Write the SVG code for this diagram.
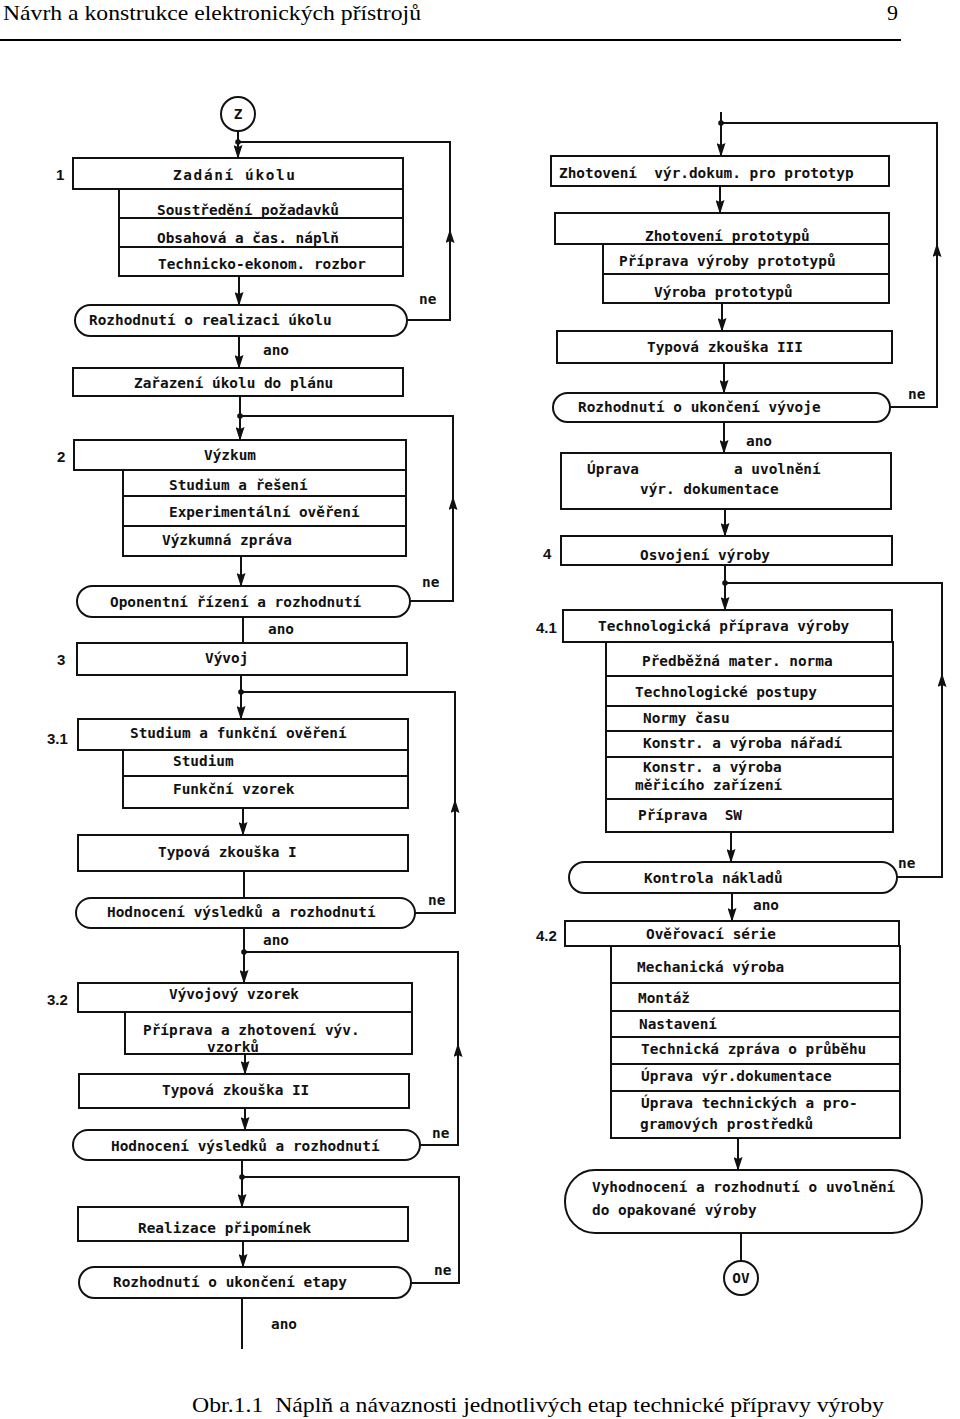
<svg xmlns="http://www.w3.org/2000/svg" width="960" height="1419" viewBox="0 0 960 1419">
<defs>
<marker id="ah" viewBox="0 0 14 9" refX="13" refY="4.5" markerWidth="14" markerHeight="9" markerUnits="userSpaceOnUse" orient="auto">
<path d="M0,0 L14,4.5 L0,9 L2,4.5 Z" fill="#111"/>
</marker>
<style>
.b{fill:#fff;stroke:#111;stroke-width:2}
.d{fill:none;stroke:#111;stroke-width:2}
.c{fill:none;stroke:#111;stroke-width:2}
.a{fill:none;stroke:#111;stroke-width:2;marker-end:url(#ah)}
.j{fill:#111}
.t{font-family:"DejaVu Sans Mono","Liberation Mono",monospace;font-size:14.4px;font-weight:bold;fill:#111;white-space:pre}
.n{font-family:"Liberation Sans","DejaVu Sans",sans-serif;font-size:15px;font-weight:bold;fill:#111}
.h{font-family:"Liberation Serif","Times New Roman",serif;font-size:22px;fill:#000;white-space:pre}
</style>
</defs>
<rect width="960" height="1419" fill="#fff"/>

<g id="header">
<text class="h" x="3" y="20" textLength="418" lengthAdjust="spacingAndGlyphs">Návrh a konstrukce elektronických přístrojů</text>
<text class="h" x="887" y="20">9</text>
<line x1="0" y1="40" x2="901" y2="40" stroke="#000" stroke-width="2"/>
</g>

<g id="connectors">
<!-- left column -->
<path class="a" d="M238,131 V158"/>
<path class="a" d="M407,320 H450 V230"/>
<path class="c" d="M450,233 V142 H238"/>
<path class="a" d="M239,276 V305"/>
<path class="a" d="M239,336 V368"/>
<path class="a" d="M240,396 V440"/>
<path class="a" d="M410,601 H453 V497"/>
<path class="c" d="M453,500 V416 H240"/>
<path class="a" d="M241,556 V586"/>
<path class="c" d="M243,617 V643"/>
<path class="a" d="M241,675 V719"/>
<path class="a" d="M415,913 H455 V800"/>
<path class="c" d="M455,803 V692 H241"/>
<path class="a" d="M243,808 V835"/>
<path class="c" d="M244,871 V898"/>
<path class="a" d="M244,928 V983"/>
<path class="a" d="M420,1145 H458 V1044"/>
<path class="c" d="M458,1047 V952 H244"/>
<path class="a" d="M245,1054 V1074"/>
<path class="a" d="M245,1108 V1130"/>
<path class="a" d="M242,1160 V1207"/>
<path class="c" d="M411,1283 H459 V1177 H242"/>
<path class="a" d="M243,1241 V1267"/>
<path class="c" d="M242,1298 V1349"/>
<circle class="j" cx="238" cy="142" r="2.8"/>
<circle class="j" cx="240" cy="416" r="2.8"/>
<circle class="j" cx="241" cy="692" r="2.8"/>
<circle class="j" cx="244" cy="952" r="2.8"/>
<circle class="j" cx="242" cy="1177" r="2.8"/>
<!-- right column -->
<path class="a" d="M721,112 V156"/>
<path class="a" d="M890,407 H937 V244"/>
<path class="c" d="M937,247 V123 H721"/>
<path class="a" d="M720,186 V213"/>
<path class="a" d="M722,303 V331"/>
<path class="a" d="M724,363 V393"/>
<path class="a" d="M724,422 V453"/>
<path class="a" d="M725,509 V536"/>
<path class="a" d="M725,565 V610"/>
<path class="a" d="M897,877 H942 V674"/>
<path class="c" d="M942,677 V583 H725"/>
<path class="a" d="M731,832 V862"/>
<path class="a" d="M732,893 V921"/>
<path class="a" d="M738,1138 V1170"/>
<path class="c" d="M741,1233 V1261"/>
<circle class="j" cx="721" cy="123" r="2.8"/>
<circle class="j" cx="725" cy="583" r="2.8"/>
</g>

<g id="labels">
<text class="t" x="419" y="304">ne</text>
<text class="t" x="263" y="355">ano</text>
<text class="t" x="422" y="587">ne</text>
<text class="t" x="268" y="634">ano</text>
<text class="t" x="428" y="905">ne</text>
<text class="t" x="263" y="945">ano</text>
<text class="t" x="432" y="1138">ne</text>
<text class="t" x="434" y="1275">ne</text>
<text class="t" x="271" y="1329">ano</text>
<text class="t" x="908" y="399">ne</text>
<text class="t" x="746" y="446">ano</text>
<text class="t" x="898" y="868">ne</text>
<text class="t" x="753" y="910">ano</text>
<text class="n" x="56" y="180">1</text>
<text class="n" x="57" y="462">2</text>
<text class="n" x="57" y="665">3</text>
<text class="n" x="47" y="744">3.1</text>
<text class="n" x="47" y="1005">3.2</text>
<text class="n" x="543" y="559">4</text>
<text class="n" x="536" y="633">4.1</text>
<text class="n" x="536" y="941">4.2</text>
</g>

<g id="start">
<circle class="b" cx="238" cy="114" r="17"/>
<text class="t" x="238" y="119" text-anchor="middle">Z</text>
</g>

<g id="n1">
<rect class="b" x="73" y="158" width="330" height="31"/>
<rect class="b" x="119" y="189" width="284" height="87"/>
<line class="d" x1="119" y1="218" x2="403" y2="218"/>
<line class="d" x1="119" y1="247" x2="403" y2="247"/>
<text class="t" x="173" y="180" textLength="122" lengthAdjust="spacing">Zadání úkolu</text>
<text class="t" x="157" y="215">Soustředění požadavků</text>
<text class="t" x="157" y="243">Obsahová a čas. náplň</text>
<text class="t" x="158" y="269">Technicko-ekonom. rozbor</text>
</g>
<g id="d1">
<rect class="b" x="75" y="305" width="332" height="31" rx="15.5"/>
<text class="t" x="89" y="325">Rozhodnutí o realizaci úkolu</text>
</g>
<g id="n1b">
<rect class="b" x="73" y="368" width="330" height="28"/>
<text class="t" x="134" y="388">Zařazení úkolu do plánu</text>
</g>

<g id="n2">
<rect class="b" x="74" y="440" width="332" height="30"/>
<rect class="b" x="123" y="470" width="283" height="86"/>
<line class="d" x1="123" y1="496" x2="406" y2="496"/>
<line class="d" x1="123" y1="526" x2="406" y2="526"/>
<text class="t" x="204" y="460">Výzkum</text>
<text class="t" x="169" y="490">Studium a řešení</text>
<text class="t" x="169" y="517">Experimentální ověření</text>
<text class="t" x="162" y="545">Výzkumná zpráva</text>
</g>
<g id="d2">
<rect class="b" x="77" y="586" width="333" height="31" rx="15.5"/>
<text class="t" x="110" y="607">Oponentní řízení a rozhodnutí</text>
</g>
<g id="n3">
<rect class="b" x="77" y="643" width="330" height="32"/>
<text class="t" x="205" y="663">Vývoj</text>
</g>

<g id="n31">
<rect class="b" x="78" y="719" width="330" height="31"/>
<rect class="b" x="123" y="750" width="285" height="58"/>
<line class="d" x1="123" y1="776" x2="408" y2="776"/>
<text class="t" x="130" y="738">Studium a funkční ověření</text>
<text class="t" x="173" y="766">Studium</text>
<text class="t" x="173" y="794">Funkční vzorek</text>
</g>
<g id="t1">
<rect class="b" x="78" y="835" width="330" height="36"/>
<text class="t" x="158" y="857">Typová zkouška I</text>
</g>
<g id="d3">
<rect class="b" x="76" y="898" width="339" height="30" rx="15"/>
<text class="t" x="107" y="917">Hodnocení výsledků a rozhodnutí</text>
</g>

<g id="n32">
<rect class="b" x="78" y="983" width="334" height="29"/>
<rect class="b" x="125" y="1012" width="287" height="42"/>
<text class="t" x="169" y="999">Vývojový vzorek</text>
<text class="t" x="143" y="1035">Příprava a zhotovení výv.</text>
<text class="t" x="207" y="1052">vzorků</text>
</g>
<g id="t2">
<rect class="b" x="79" y="1074" width="330" height="34"/>
<text class="t" x="162" y="1095">Typová zkouška II</text>
</g>
<g id="d4">
<rect class="b" x="73" y="1130" width="347" height="30" rx="15"/>
<text class="t" x="111" y="1151">Hodnocení výsledků a rozhodnutí</text>
</g>
<g id="r1">
<rect class="b" x="78" y="1207" width="330" height="34"/>
<text class="t" x="138" y="1233">Realizace připomínek</text>
</g>
<g id="d5">
<rect class="b" x="79" y="1267" width="332" height="31" rx="15.5"/>
<text class="t" x="113" y="1287">Rozhodnutí o ukončení etapy</text>
</g>

<g id="rb1">
<rect class="b" x="551" y="156" width="338" height="30"/>
<text class="t" x="559" y="178" xml:space="preserve">Zhotovení  výr.dokum. pro prototyp</text>
</g>
<g id="rb2">
<rect class="b" x="555" y="213" width="334" height="31"/>
<rect class="b" x="603" y="244" width="286" height="59"/>
<line class="d" x1="603" y1="274" x2="889" y2="274"/>
<text class="t" x="645" y="241">Zhotovení prototypů</text>
<text class="t" x="619" y="266">Příprava výroby prototypů</text>
<text class="t" x="654" y="297">Výroba prototypů</text>
</g>
<g id="t3">
<rect class="b" x="557" y="331" width="335" height="32"/>
<text class="t" x="647" y="352">Typová zkouška III</text>
</g>
<g id="d6">
<rect class="b" x="553" y="393" width="337" height="29" rx="14.5"/>
<text class="t" x="578" y="412">Rozhodnutí o ukončení vývoje</text>
</g>
<g id="u1">
<rect class="b" x="561" y="453" width="330" height="56"/>
<text class="t" x="587" y="474">Úprava</text>
<text class="t" x="734" y="474">a uvolnění</text>
<text class="t" x="640" y="494">výr. dokumentace</text>
</g>
<g id="n4">
<rect class="b" x="561" y="536" width="331" height="29"/>
<text class="t" x="640" y="560">Osvojení výroby</text>
</g>
<g id="n41">
<rect class="b" x="563" y="610" width="329" height="32"/>
<rect class="b" x="606" y="642" width="287" height="190"/>
<line class="d" x1="606" y1="676" x2="893" y2="676"/>
<line class="d" x1="606" y1="706" x2="893" y2="706"/>
<line class="d" x1="606" y1="731" x2="893" y2="731"/>
<line class="d" x1="606" y1="757" x2="893" y2="757"/>
<line class="d" x1="606" y1="799" x2="893" y2="799"/>
<text class="t" x="598" y="631">Technologická příprava výroby</text>
<text class="t" x="642" y="666">Předběžná mater. norma</text>
<text class="t" x="635" y="697">Technologické postupy</text>
<text class="t" x="643" y="723">Normy času</text>
<text class="t" x="643" y="748">Konstr. a výroba nářadí</text>
<text class="t" x="643" y="772">Konstr. a výroba</text>
<text class="t" x="635" y="790">měřicího zařízení</text>
<text class="t" x="638" y="820" xml:space="preserve">Příprava  SW</text>
</g>
<g id="d7">
<rect class="b" x="569" y="862" width="328" height="31" rx="15.5"/>
<text class="t" x="644" y="883">Kontrola nákladů</text>
</g>
<g id="n42">
<rect class="b" x="565" y="921" width="334" height="25"/>
<rect class="b" x="611" y="946" width="289" height="192"/>
<line class="d" x1="611" y1="983" x2="900" y2="983"/>
<line class="d" x1="611" y1="1011" x2="900" y2="1011"/>
<line class="d" x1="611" y1="1037" x2="900" y2="1037"/>
<line class="d" x1="611" y1="1064" x2="900" y2="1064"/>
<line class="d" x1="611" y1="1091" x2="900" y2="1091"/>
<text class="t" x="646" y="939">Ověřovací série</text>
<text class="t" x="637" y="972">Mechanická výroba</text>
<text class="t" x="638" y="1003">Montáž</text>
<text class="t" x="639" y="1029">Nastavení</text>
<text class="t" x="641" y="1054">Technická zpráva o průběhu</text>
<text class="t" x="641" y="1081">Úprava výr.dokumentace</text>
<text class="t" x="641" y="1108">Úprava technických a pro-</text>
<text class="t" x="640" y="1129">gramových prostředků</text>
</g>
<g id="d8">
<rect class="b" x="565" y="1170" width="357" height="63" rx="30" ry="31"/>
<text class="t" x="592" y="1192">Vyhodnocení a rozhodnutí o uvolnění</text>
<text class="t" x="592" y="1215">do opakované výroby</text>
</g>
<g id="end">
<circle class="b" cx="741" cy="1278" r="17"/>
<text class="t" x="741" y="1283" text-anchor="middle">OV</text>
</g>

<g id="caption">
<text class="h" x="192" y="1412" textLength="692" lengthAdjust="spacingAndGlyphs" xml:space="preserve">Obr.1.1  Náplň a návaznosti jednotlivých etap technické přípravy výroby</text>
</g>
</svg>
